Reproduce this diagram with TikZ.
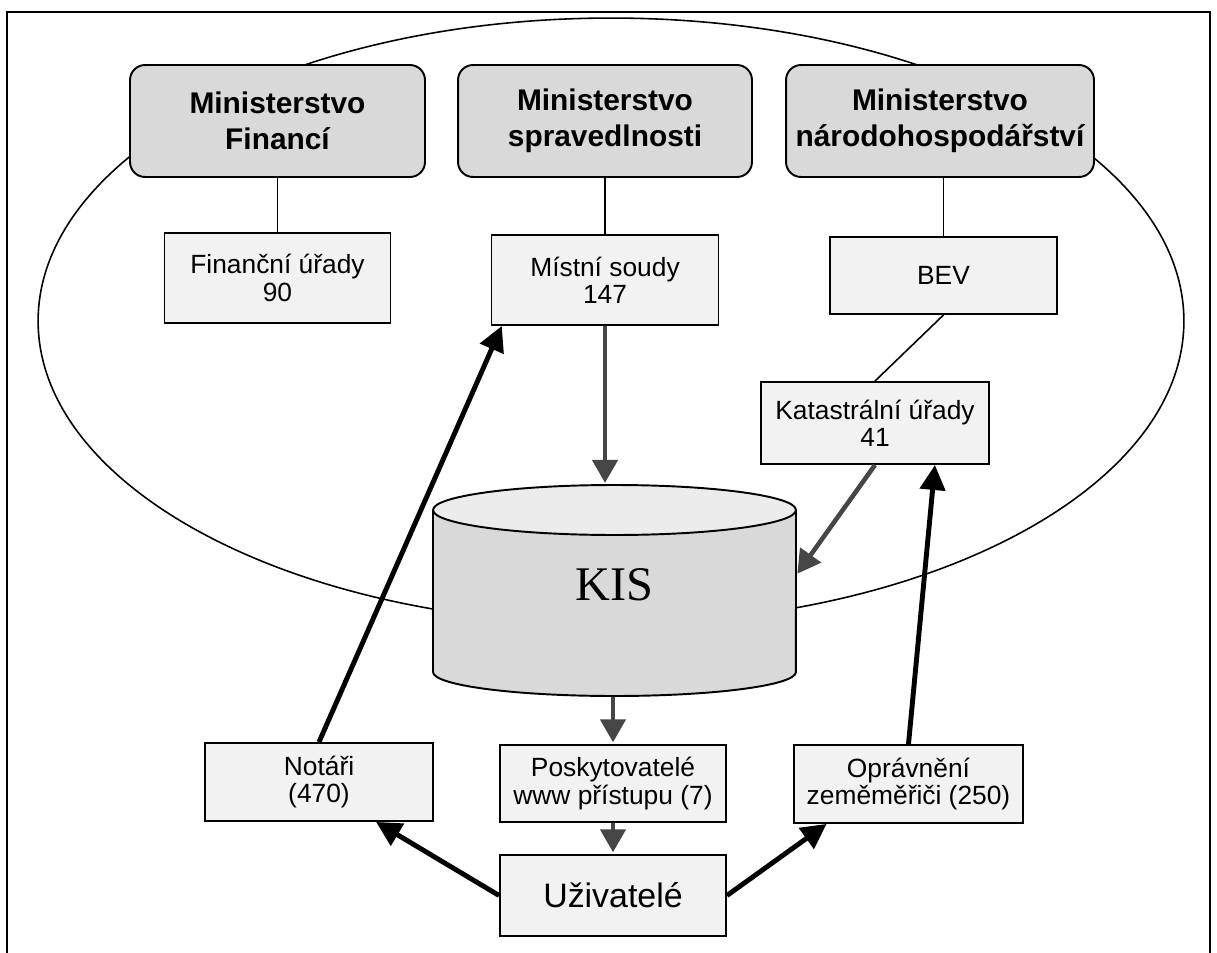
\documentclass[tikz,border=0pt]{standalone}
\usepackage{fontspec}
\setmainfont{Liberation Sans}
\newfontfamily\kisfont{Liberation Serif}
\usetikzlibrary{arrows.meta}

\tikzset{
  ministr/.style={draw, line width=1.1pt, rounded corners=0.3cm, fill=gray!30,
    minimum height=2.24cm, align=center, inner sep=0pt,
    font=\fontsize{17}{20.5}\selectfont\bfseries},
  urad/.style={draw, line width=1.1pt, fill=gray!10, align=center, inner sep=0pt,
    font=\fontsize{15}{15.5}\selectfont},
  linka/.style={line width=0.9pt},
  tok/.style={draw=gray!55!black, line width=2.6pt,
    -{Triangle[length=0.46cm,width=0.5cm]}, shorten >=1pt},
  vazba/.style={line width=2.8pt, -{Triangle[length=0.5cm,width=0.5cm]}},
}

\begin{document}
\begin{tikzpicture}[x=0.02cm, y=-0.02cm]
\useasboundingbox (0,0) rectangle (1217,953);
% ramecek a elipsa
\draw[line width=1pt] (7,953) -- (7,12) -- (1210,12) -- (1210,953);
\draw[line width=0.9pt] (611,321) ellipse [x radius=11.46cm, y radius=6.06cm];

% ministerstva
\node[ministr, minimum width=5.9cm] (mf) at (277.5,121) {Ministerstvo\\Financí};
\node[ministr, minimum width=5.88cm] (ms) at (605,121) {Ministerstvo\\spravedlnosti};
\node[ministr, minimum width=6.16cm] (mn) at (940,121) {Ministerstvo\\národohospodářství};

% urady
\node[urad, minimum width=4.52cm, minimum height=1.8cm] (fu) at (277.5,278) {Finanční úřady\\90};
\node[urad, minimum width=4.54cm, minimum height=1.8cm] (msoudy) at (605,280) {Místní soudy\\147};
\node[urad, minimum width=4.54cm, minimum height=1.54cm] (bev) at (943.5,275.5) {BEV};
\node[urad, minimum width=4.56cm, minimum height=1.64cm] (ku) at (875,423) {Katastrální úřady\\41};

% KIS
\fill[gray!30] (433,510) -- (433,672) arc[start angle=180, end angle=360, x radius=3.63cm, y radius=0.48cm] -- (796,510) -- cycle;
\filldraw[line width=1.1pt, fill=gray!15] (614.5,510) ellipse [x radius=3.63cm, y radius=0.5cm];
\draw[line width=1.1pt] (433,510) -- (433,672) arc[start angle=180, end angle=360, x radius=3.63cm, y radius=0.48cm] -- (796,510);
\node[minimum width=7.26cm, minimum height=4.24cm, inner sep=0pt, text depth=0.28cm,
  font=\kisfont\fontsize{27.5}{30}\selectfont] (kis) at (614.5,591) {KIS};

% uzivatele
\node[urad, minimum width=4.56cm, minimum height=1.56cm] (notari) at (319,782) {Notáři\\(470)};
\node[urad, minimum width=4.52cm, minimum height=1.54cm] (posk) at (613,783.5) {Poskytovatelé\\www přístupu (7)};
\node[urad, minimum width=4.58cm, minimum height=1.56cm] (oprav) at (908.5,784) {Oprávnění\\zeměměřiči (250)};
\node[urad, minimum width=4.52cm, minimum height=1.62cm, font=\fontsize{19.3}{22}\selectfont] (uziv) at (613,895.5) {Uživatelé};

\draw[linka] (mf) -- (fu);
\draw[linka] (ms) -- (msoudy);
\draw[linka] (bev.north) -- (bev.north |- mn.south);
\draw[linka] (bev.south) -- (ku.north);

\draw[tok] (msoudy.south) -- (msoudy.south |- kis.north);
\draw[tok] (ku.south) -- (kis.5);
\draw[tok] (kis.south -| posk.north) -- (posk.north);
\draw[tok] (posk) -- (uziv);

\draw[vazba] (uziv.west) -- (notari.-35);
\draw[vazba] (uziv.east) -- (oprav.206);
\draw[vazba] (notari.north) -- (msoudy.204);
\draw[vazba] (oprav.north) -- (ku.-35);
\end{tikzpicture}
\end{document}
